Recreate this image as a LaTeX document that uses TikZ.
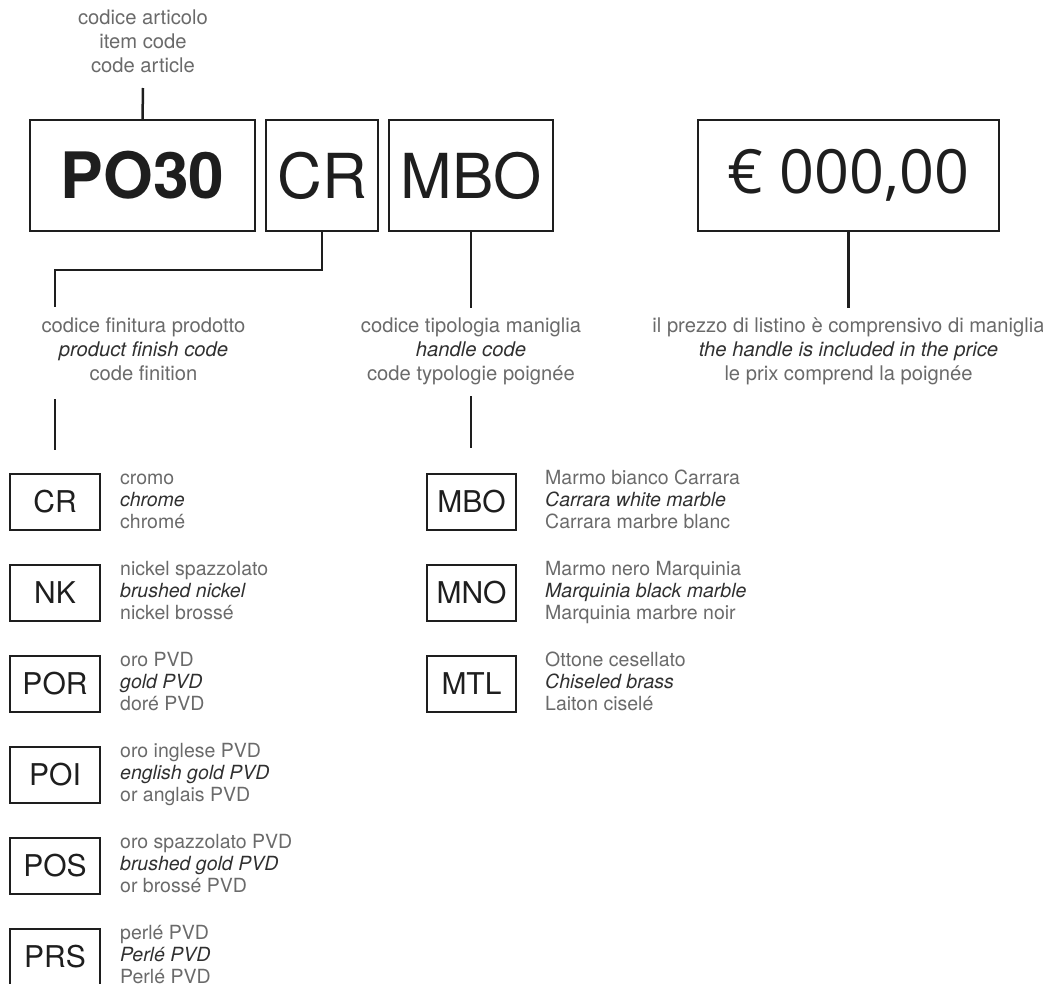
\documentclass[tikz,border=0pt]{standalone}
\usepackage{fontspec}
\setmainfont{TeX Gyre Heros}
\newfontfamily\pricefont{Open Sans}
\usepackage{tikz}
\usetikzlibrary{positioning}
\definecolor{ink}{HTML}{1E1E1E}
\definecolor{capGrey}{HTML}{6A6A6A}
\definecolor{capDk}{HTML}{303030}

% three-language caption: it / en (italic) / fr
\newcommand{\trilang}[3]{\strut#1\\{\color{capDk}\itshape#2}\\#3\strut}

\begin{document}
\begin{tikzpicture}[
  x=1pt, y=-1pt,
  big/.style={draw=ink, line width=2pt, minimum height=111pt, inner sep=0pt,
              outer sep=0pt, text=ink, font=\fontsize{62}{62}\selectfont},
  codebox/.style={draw=ink, line width=1.3pt, minimum width=90pt, minimum height=56pt,
              inner sep=0pt, outer sep=0pt, text=ink, font=\fontsize{30}{30}\selectfont},
  capnote/.style={align=center, text=capGrey, inner sep=0pt, outer sep=8pt,
              font=\fontsize{20.2}{24}\selectfont},
  lbl/.style={align=left, text=capGrey, inner sep=0pt,
              font=\fontsize{19.5}{22}\selectfont},
  conn/.style={draw=ink, line width=2.5pt}
]
  \clip (0,0) rectangle (1043,983);

  % Code row
  \node[big, minimum width=225pt, font=\fontsize{64}{64}\selectfont\bfseries] (po30) at (142.5,175.5) {PO30};
  \node[big, minimum width=112pt, right=11pt of po30] (cr) {CR};
  \node[big, minimum width=164pt, right=11pt of cr] (mbo) {MBO};
  \node[big, minimum width=301pt, font=\pricefont\fontsize{61}{61}\selectfont] (price) at (848.5,175.5) {€ 000,00};

  % Captions
  \node[capnote] (artLbl) at (143,44) {\strut codice articolo\\item code\\code article\strut};
  \node[capnote] (finLbl) at (143.5,352) {\trilang{codice finitura prodotto}{product finish code}{code finition}};
  \node[capnote] (hdlLbl) at (471,352) {\trilang{codice tipologia maniglia}{handle code}{code typologie poignée}};
  \node[capnote] (priceLbl) at (848.5,352) {\trilang{il prezzo di listino è comprensivo di maniglia}{the handle is included in the price}{le prix comprend la poignée}};

  % Connectors
  \coordinate (finIn) at (55,307);
  \coordinate (finOut) at (55,399);
  \coordinate (finEnd) at (55,450);
  \coordinate (hdlEnd) at (471,448);
  \draw[conn] (artLbl.south) -- (po30.north);
  \draw[conn] (cr.south) -- ++(0,39) -| (finIn);
  \draw[conn] (finOut) -- (finEnd);
  \draw[conn] (mbo.south) -- (hdlLbl.north);
  \draw[conn] (hdlLbl.south) -- (hdlEnd);
  \draw[conn] (price.south) -- (priceLbl.north);

  % Finishes
  \node[codebox] (fCR) at (55,502) {CR};
  \node[lbl, right=20pt of fCR] (fCRt) {\trilang{cromo}{chrome}{chromé}};
  \node[codebox, below=35pt of fCR] (fNK) {NK};
  \node[lbl, right=20pt of fNK] (fNKt) {\trilang{nickel spazzolato}{brushed nickel}{nickel brossé}};
  \node[codebox, below=35pt of fNK] (fPOR) {POR};
  \node[lbl, right=20pt of fPOR] (fPORt) {\trilang{oro PVD}{gold PVD}{doré PVD}};
  \node[codebox, below=35pt of fPOR] (fPOI) {POI};
  \node[lbl, right=20pt of fPOI] (fPOIt) {\trilang{oro inglese PVD}{english gold PVD}{or anglais PVD}};
  \node[codebox, below=35pt of fPOI] (fPOS) {POS};
  \node[lbl, right=20pt of fPOS] (fPOSt) {\trilang{oro spazzolato PVD}{brushed gold PVD}{or brossé PVD}};
  \node[codebox, below=35pt of fPOS] (fPRS) {PRS};
  \node[lbl, right=20pt of fPRS] (fPRSt) {\trilang{perlé PVD}{Perlé PVD}{Perlé PVD}};

  % Handles
  \node[codebox, minimum width=89pt] (hMBO) at (471.5,502) {MBO};
  \node[lbl, right=29pt of hMBO] (hMBOt) {\trilang{Marmo bianco Carrara}{Carrara white marble}{Carrara marbre blanc}};
  \node[codebox, minimum width=89pt, below=35pt of hMBO] (hMNO) {MNO};
  \node[lbl, right=29pt of hMNO] (hMNOt) {\trilang{Marmo nero Marquinia}{Marquinia black marble}{Marquinia marbre noir}};
  \node[codebox, minimum width=89pt, below=35pt of hMNO] (hMTL) {MTL};
  \node[lbl, right=29pt of hMTL] (hMTLt) {\trilang{Ottone cesellato}{Chiseled brass}{Laiton ciselé}};
\end{tikzpicture}
\end{document}
